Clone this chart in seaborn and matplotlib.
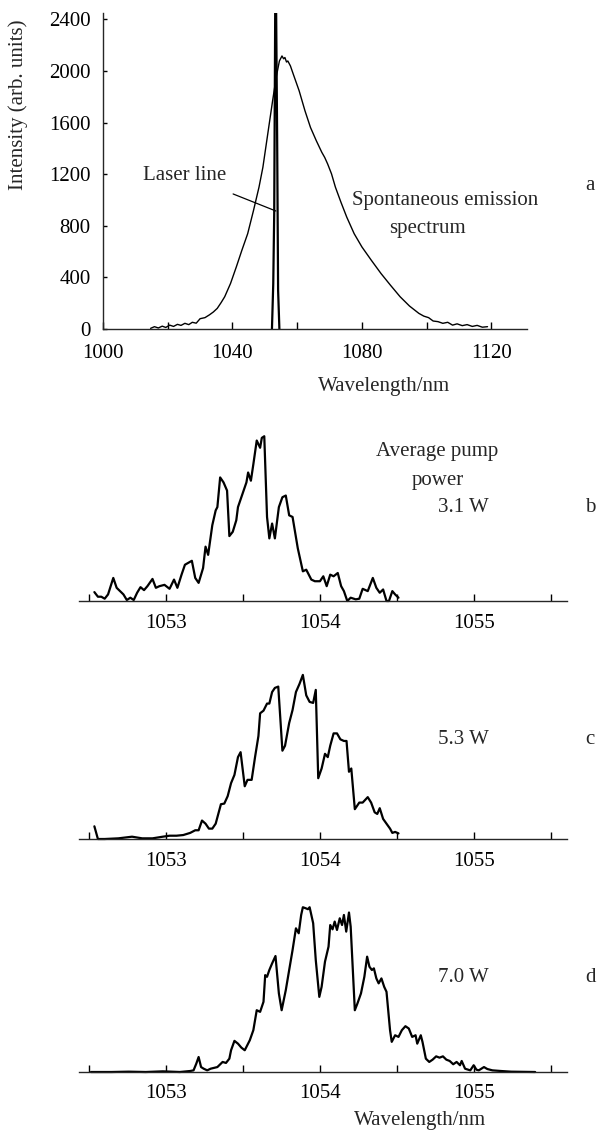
import numpy as np
import pandas as pd
import matplotlib
matplotlib.use("Agg")
import matplotlib.pyplot as plt
import seaborn as sns
from matplotlib.ticker import MultipleLocator

# ---------------- data ----------------
# Panel a: spontaneous emission spectrum
spont_wl = [1014.7, 1015.9, 1017.1, 1018.3, 1019.4, 1020.6, 1021.8, 1023.0, 1024.1, 1025.3,
            1026.5, 1027.6, 1028.8, 1030.0, 1031.5, 1032.9, 1034.1, 1035.3, 1036.5, 1037.6,
            1039.4, 1041.2, 1042.9, 1044.7, 1046.5, 1048.2, 1049.4, 1050.6, 1051.5, 1052.4,
            1053.5, 1054.5, 1055.3, 1055.8, 1056.2, 1056.7, 1057.1, 1057.9, 1058.8, 1060.6,
            1062.4, 1064.1, 1065.9, 1067.6, 1068.5, 1069.4, 1070.6, 1071.8, 1073.5, 1075.3,
            1077.6, 1080.0, 1082.9, 1085.9, 1088.8, 1091.8, 1094.7, 1097.6, 1099.1, 1100.6,
            1102.0, 1103.5, 1105.0, 1106.5, 1108.0, 1109.4, 1111.0, 1112.5, 1114.1, 1115.6,
            1117.2, 1118.8]
spont_int = [5, 18, 8, 22, 12, 30, 20, 36, 28, 44,
             34, 52, 45, 80, 88, 110, 132, 160, 205, 250,
             353, 482, 610, 739, 919, 1100, 1254, 1460, 1615, 1769,
             1950, 2078, 2117, 2095, 2105, 2070, 2078, 2040, 1975, 1847,
             1692, 1563, 1460, 1370, 1330, 1280, 1203, 1100, 984, 868,
             739, 636, 533, 430, 340, 250, 178, 121, 100, 88,
             62, 57, 44, 52, 30, 40, 26, 34, 20, 28,
             14, 18]
# Panel a: laser line
laser_wl = [1052.2, 1052.6, 1052.9, 1053.2, 1053.5, 1053.8, 1054.1, 1054.5]
laser_int = [0, 350, 900, 2450, 2450, 1500, 300, 0]

# Panel b: 3.1 W
b_wl = [1052.533, 1052.556, 1052.578, 1052.600, 1052.622, 1052.656, 1052.678, 1052.700, 1052.722,
        1052.744, 1052.767, 1052.789, 1052.811, 1052.833, 1052.856, 1052.878, 1052.911, 1052.933,
        1052.956, 1052.989, 1053.022, 1053.051, 1053.073, 1053.100, 1053.122, 1053.167, 1053.189,
        1053.211, 1053.240, 1053.256, 1053.273, 1053.300, 1053.322, 1053.333, 1053.351, 1053.373,
        1053.396, 1053.411, 1053.433, 1053.456, 1053.467, 1053.489, 1053.522, 1053.533, 1053.551,
        1053.567, 1053.589, 1053.611, 1053.622, 1053.638, 1053.656, 1053.671, 1053.689, 1053.707,
        1053.733, 1053.756, 1053.778, 1053.800, 1053.822, 1053.856, 1053.889, 1053.911, 1053.944,
        1053.967, 1054.000, 1054.022, 1054.044, 1054.067, 1054.089, 1054.116, 1054.138, 1054.156,
        1054.178, 1054.200, 1054.233, 1054.256, 1054.278, 1054.311, 1054.344, 1054.367, 1054.389,
        1054.411, 1054.433, 1054.449, 1054.471, 1054.489, 1054.511]
b_int = [5.4, 2.6, 2.6, 1.4, 4.0, 14.0, 8.0, 6.0, 4.0,
         0.6, 2.0, 0.6, 5.0, 8.4, 6.6, 9.0, 13.4, 8.0,
         9.0, 9.8, 7.4, 13.0, 8.0, 16.0, 22.0, 24.4, 14.0,
         11.0, 20.0, 33.0, 28.0, 46.0, 55.0, 57.0, 75.0, 72.0,
         67.0, 39.4, 42.0, 49.0, 57.0, 63.0, 72.0, 78.0, 73.0,
         83.0, 97.4, 93.0, 99.0, 100.0, 51.0, 38.0, 47.0, 38.0,
         57.0, 63.0, 64.0, 52.0, 51.0, 32.0, 18.0, 19.0, 13.0,
         12.0, 12.0, 15.0, 9.0, 16.0, 15.0, 17.0, 9.0, 6.0,
         0.0, 2.0, 1.0, 1.4, 7.4, 6.0, 14.0, 8.0, 5.0,
         7.0, 0.0, 0.0, 6.0, 4.0, 2.0]

# Panel c: 5.3 W
c_wl = [1052.533, 1052.556, 1052.600, 1052.689, 1052.778, 1052.844, 1052.911, 1052.978, 1053.022,
        1053.067, 1053.111, 1053.156, 1053.189, 1053.211, 1053.233, 1053.256, 1053.278, 1053.300,
        1053.322, 1053.356, 1053.378, 1053.400, 1053.422, 1053.444, 1053.467, 1053.484, 1053.511,
        1053.529, 1053.556, 1053.578, 1053.600, 1053.611, 1053.633, 1053.656, 1053.671, 1053.689,
        1053.707, 1053.729, 1053.756, 1053.773, 1053.800, 1053.822, 1053.844, 1053.867, 1053.889,
        1053.911, 1053.933, 1053.956, 1053.973, 1053.989, 1054.011, 1054.033, 1054.051, 1054.067,
        1054.089, 1054.111, 1054.133, 1054.156, 1054.173, 1054.189, 1054.204, 1054.227, 1054.256,
        1054.278, 1054.311, 1054.333, 1054.356, 1054.373, 1054.389, 1054.411, 1054.433, 1054.456,
        1054.471, 1054.489, 1054.511]
c_int = [7.7, 0.0, 0.0, 0.4, 1.4, 0.4, 0.4, 1.4, 2.0,
         2.0, 2.4, 3.7, 5.3, 5.3, 11.2, 9.3, 6.3, 6.3,
         9.3, 21.1, 21.5, 26.0, 33.9, 38.9, 49.7, 52.7, 32.0,
         35.9, 35.9, 49.7, 62.5, 76.3, 77.9, 82.2, 82.2, 89.2,
         91.7, 92.5, 53.6, 56.6, 70.4, 78.3, 89.2, 94.1, 99.6,
         87.2, 83.2, 82.6, 90.5, 36.9, 42.8, 51.7, 49.7, 56.6,
         64.1, 64.1, 60.5, 59.5, 59.5, 40.8, 42.8, 18.1, 22.1,
         22.1, 25.4, 22.1, 16.2, 15.2, 18.7, 12.2, 9.3, 6.3,
         3.7, 4.3, 3.4]

# Panel d: 7.0 W
d_wl = [1052.511, 1052.644, 1052.756, 1052.867, 1052.978, 1053.089, 1053.156, 1053.178, 1053.196,
        1053.211, 1053.227, 1053.244, 1053.267, 1053.289, 1053.333, 1053.367, 1053.389, 1053.411,
        1053.422, 1053.444, 1053.467, 1053.489, 1053.511, 1053.544, 1053.567, 1053.589, 1053.611,
        1053.633, 1053.644, 1053.656, 1053.671, 1053.689, 1053.711, 1053.733, 1053.751, 1053.778,
        1053.800, 1053.822, 1053.844, 1053.862, 1053.878, 1053.889, 1053.907, 1053.922, 1053.933,
        1053.956, 1053.973, 1053.996, 1054.011, 1054.033, 1054.056, 1054.067, 1054.082, 1054.096,
        1054.111, 1054.129, 1054.144, 1054.156, 1054.171, 1054.189, 1054.200, 1054.227, 1054.244,
        1054.267, 1054.289, 1054.307, 1054.322, 1054.338, 1054.351, 1054.367, 1054.382, 1054.400,
        1054.418, 1054.433, 1054.456, 1054.467, 1054.489, 1054.511, 1054.533, 1054.556, 1054.578,
        1054.600, 1054.622, 1054.633, 1054.656, 1054.667, 1054.689, 1054.711, 1054.733, 1054.756,
        1054.778, 1054.800, 1054.822, 1054.844, 1054.867, 1054.889, 1054.911, 1054.922, 1054.944,
        1054.978, 1055.000, 1055.018, 1055.033, 1055.067, 1055.089, 1055.122, 1055.178, 1055.244,
        1055.400]
d_int = [0.0, 0.0, 0.2, 0.0, 0.4, 0.0, 0.6, 1.0, 5.1,
         9.1, 3.0, 2.0, 1.0, 2.0, 3.0, 6.1, 5.5, 8.1,
         13.2, 18.9, 17.2, 14.8, 13.2, 19.3, 25.4, 37.5, 36.5,
         42.6, 58.8, 57.8, 61.9, 65.9, 70.4, 47.7, 37.5, 49.7,
         61.9, 74.0, 87.2, 84.2, 95.3, 100.0, 99.4, 98.8, 100.0,
         90.3, 67.9, 45.6, 51.7, 67.0, 76.1, 89.2, 86.6, 91.3,
         86.2, 93.3, 89.2, 95.3, 85.2, 96.8, 88.2, 37.5, 41.6,
         47.7, 57.8, 70.0, 63.9, 61.9, 62.9, 56.8, 53.8, 56.8,
         51.7, 48.7, 25.4, 18.3, 22.3, 21.3, 25.4, 27.8, 26.4,
         21.3, 22.3, 17.2, 22.3, 18.3, 8.1, 6.1, 7.5, 9.5,
         8.7, 9.5, 7.5, 6.7, 4.7, 6.1, 4.1, 6.7, 2.0,
         1.0, 4.1, 1.4, 1.0, 3.0, 1.8, 1.0, 0.6, 0.2,
         0.0]

power_labels = ["3.1 W", "5.3 W", "7.0 W"]
panel_letters = ["a", "b", "c", "d"]
a_xticks = [1000, 1040, 1080, 1120]
a_yticks = [0, 400, 800, 1200, 1600, 2000, 2400]
bcd_xticks = [1053, 1054, 1055]

# ---------------- style ----------------
sns.set_theme(style="ticks")
plt.rcParams["font.family"] = ["Liberation Serif", "DejaVu Serif"]
plt.rcParams["axes.linewidth"] = 1.0
FS = 15

W, H = 597, 1133
fig = plt.figure(figsize=(W / 100, H / 100), dpi=100)
fig.patch.set_facecolor("white")


def px_axes(l, r, t, b):
    ax = fig.add_axes([l / W, 1 - b / H, (r - l) / W, (b - t) / H])
    ax.set_facecolor("white")
    return ax


def fx(x):
    return x / W


def fy(y):
    return 1 - y / H


# ---------------- panel a ----------------
axa = px_axes(103, 527, 13, 329)
df_sp = pd.DataFrame({"wl": spont_wl, "I": spont_int})
df_la = pd.DataFrame({"wl": laser_wl, "I": laser_int})
sns.lineplot(data=df_sp, x="wl", y="I", ax=axa, color="black", lw=1.0,
             estimator=None, sort=False, legend=False)
sns.lineplot(data=df_la, x="wl", y="I", ax=axa, color="black", lw=1.6,
             estimator=None, sort=False, legend=False)
axa.set_xlim(1000, 1131)
axa.set_ylim(0, 2450)
axa.set_xticks(a_xticks)
axa.xaxis.set_minor_locator(MultipleLocator(20))
axa.set_yticks(a_yticks)
axa.tick_params(axis="x", which="both", direction="in", length=5, width=1,
                labelsize=FS, pad=11, colors="black")
axa.tick_params(axis="y", which="both", direction="in", length=3, width=1,
                labelsize=FS, pad=9, colors="black")
sns.despine(ax=axa)
axa.set_xlabel("")
axa.set_ylabel("")
fig.text(fx(18), fy(105), "Intensity (arb. units)", rotation=90, ha="center",
         va="center", fontsize=FS)
fig.text(fx(318), fy(377), "Wavelength/nm", ha="left", va="top", fontsize=FS)
fig.text(fx(185), fy(175), "Laser line", ha="center", va="center", fontsize=FS)
axa.annotate("", xy=(1053.4, 915), xytext=(1040.2, 1047),
             arrowprops=dict(arrowstyle="-", lw=0.9, color="black",
                             shrinkA=0, shrinkB=0))
fig.text(fx(445), fy(200), "Spontaneous emission", ha="center", va="center", fontsize=FS)
fig.text(fx(427), fy(228), "spectrum", ha="center", va="center", fontsize=FS)
fig.text(fx(590), fy(186), panel_letters[0], ha="center", va="center", fontsize=FS)

# ---------------- panels b, c, d ----------------
series = [(b_wl, b_int), (c_wl, c_int), (d_wl, d_int)]
baselines = [601, 839, 1072]
text_y = [507, 740, 977]
for i, ((wl, inten), base) in enumerate(zip(series, baselines)):
    ax = px_axes(79, 567, base - 173, base)
    df = pd.DataFrame({"wl": wl, "I": inten})
    sns.lineplot(data=df, x="wl", y="I", ax=ax, color="black", lw=1.6,
                 estimator=None, sort=False, legend=False)
    for ln in ax.lines:
        ln.set_clip_on(False)
    ax.set_xlim(1052.433, 1055.607)
    ax.set_ylim(0, 105)
    ax.set_xticks(bcd_xticks)
    ax.xaxis.set_minor_locator(MultipleLocator(0.5))
    ax.set_yticks([])
    ax.tick_params(axis="x", which="both", direction="in", length=5, width=1,
                   labelsize=FS, pad=9, colors="black")
    sns.despine(ax=ax, left=True)
    ax.set_xlabel("")
    ax.set_ylabel("")
    fig.text(fx(463), fy(text_y[i]), power_labels[i], ha="center", va="center", fontsize=FS)
    fig.text(fx(590), fy(text_y[i]), panel_letters[i + 1], ha="center", va="center", fontsize=FS)

fig.text(fx(437), fy(452), "Average pump", ha="center", va="center", fontsize=FS)
fig.text(fx(438), fy(480), "power", ha="center", va="center", fontsize=FS)
fig.text(fx(420), fy(1121), "Wavelength/nm", ha="center", va="center", fontsize=FS)

fig.savefig("out.png", dpi=100, facecolor="white")
